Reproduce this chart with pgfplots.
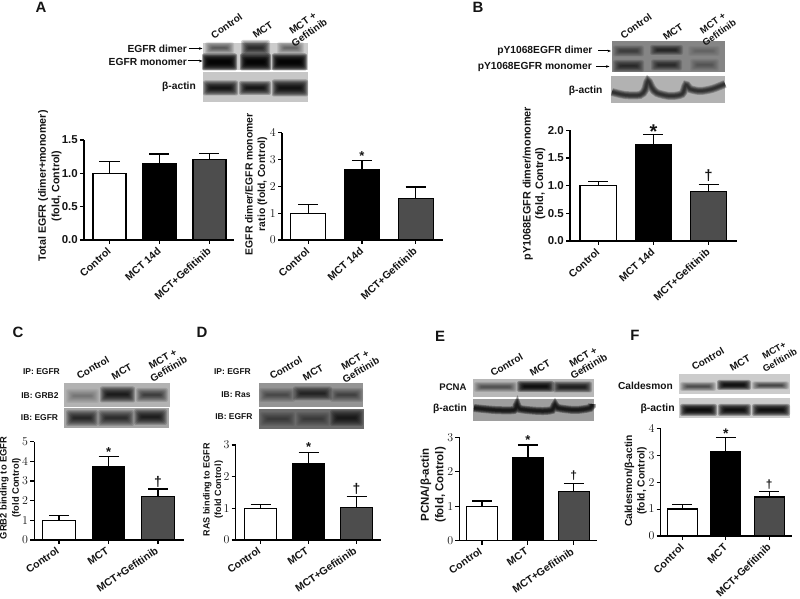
\documentclass[border=0pt]{standalone}
\usepackage{fontspec}
\setmainfont{Liberation Sans}
\usepackage{pgfplots}
\pgfplotsset{compat=1.18}
\usetikzlibrary{arrows.meta}

\definecolor{barwhite}{RGB}{255,255,255}
\definecolor{barblack}{RGB}{0,0,0}
\definecolor{bargray}{RGB}{77,77,77}
\definecolor{ink}{RGB}{20,20,20}

\newcommand{\sz}[1]{\fontsize{#1}{11.5}\selectfont\bfseries}

\pgfplotsset{
  panel/.style={
    scale only axis, ybar, bar shift=0pt, clip=false,
    axis x line*=bottom, axis y line*=left,
    axis line style={line width=1.2bp, black, -},
    tick style={line width=1.1bp, black},
    major tick length=4bp, tick align=outside,
    xtick={0,1,2}, ymin=0,
    tick label style={font=\sz{10.5}, text=ink},
    yticklabel style={font=\sz{11.5}, inner sep=2bp},
    xticklabel style={rotate=#1, anchor=east, inner sep=1bp, xshift=-3bp, yshift=-4bp},
    ylabel style={font=\sz{10.5}, text=ink, align=center, anchor=center},
  },
  lab/.style 2 args={every axis y label/.append style={at={(axis description cs:#1,#2)}}},
  eb/.style={
    line width=1.2bp, draw=black,
    error bars/y dir=plus, error bars/y explicit,
    error bars/error bar style={line width=1.3bp, black},
    error bars/error mark options={line width=1.3bp, black, mark size=10bp, rotate=90},
  },
}

% soft band on a blot
\newcommand{\band}[5]{%
  \foreach \i in {0,...,7}{%
    \fill[black, fill opacity={#5*0.65}, rounded corners=2bp]
      ({#1+\i*1},{#3-#4*(1-\i/8)}) rectangle ({#2-\i*1},{#3+#4*(1-\i/8)});
  }%
}
% soft curved strip
\newcommand{\strip}[2]{%
  \foreach \w in {8,6.5,5,3.5,2}{%
    \draw[black, draw opacity=#2, line width=\w bp] plot[smooth] coordinates {#1};
  }%
}
\newcommand{\blot}[5]{\fill[black!#5] (#1,#2) rectangle (#3,#4);}

\begin{document}
\begin{tikzpicture}
\path[use as bounding box] (0,0) rectangle (800bp,599bp);

% A, total EGFR
\begin{axis}[panel=42, at={(84bp,359bp)}, anchor=south west, width=150bp, height=100bp,
  bar width=33bp, xmin=-0.51, xmax=2.49, ymax=1.5,
  ytick={0,0.5,1,1.5}, yticklabels={0.0,0.5,1.0,1.5},
  xticklabels={Control,MCT 14d,MCT+Gefitinib},
  lab={-0.227}{0.54},
  ylabel style={font=\sz{10.7}},
  ylabel={Total EGFR (dimer+monomer)\\[2bp](fold, Control)}]
\addplot[eb, fill=barwhite] coordinates {(0,1.00) +- (0,0.18)};
\addplot[eb, fill=barblack] coordinates {(1,1.15) +- (0,0.14)};
\addplot[eb, fill=bargray] coordinates {(2,1.21) +- (0,0.09)};
\end{axis}

% A, dimer/monomer ratio
\begin{axis}[panel=42, at={(282bp,359bp)}, anchor=south west, width=161bp, height=107.3bp,
  bar width=35bp, xmin=-0.49, xmax=2.51, ymax=4,
  ytick={0,1,2,3,4},
  xticklabels={Control,MCT 14d,MCT+Gefitinib},
  lab={-0.16}{0.52},
  ylabel style={font=\sz{10.4}},
  ylabel={EGFR dimer/EGFR monomer\\[1bp]ratio (fold, Control)}]
\addplot[eb, fill=barwhite] coordinates {(0,1.00) +- (0,0.32)};
\addplot[eb, fill=barblack] coordinates {(1,2.62) +- (0,0.35)};
\addplot[eb, fill=bargray] coordinates {(2,1.55) +- (0,0.43)};
\node[font=\sz{13}, text=ink] at (axis cs:1,3.12) {*};
\end{axis}

% B
\begin{axis}[panel=42, at={(570bp,358bp)}, anchor=south west, width=166.7bp, height=110.7bp,
  bar width=36.5bp, xmin=-0.513, xmax=2.51, ymax=2,
  ytick={0,0.5,1,1.5,2}, yticklabels={0.0,0.5,1.0,1.5,2.0},
  xticklabels={Control,MCT 14d,MCT+Gefitinib},
  lab={-0.215}{0.52},
  ylabel style={font=\sz{10.9}},
  ylabel={pY1068EGFR dimer/monomer\\[1bp](fold, Control)}]
\addplot[eb, fill=barwhite] coordinates {(0,1.00) +- (0,0.08)};
\addplot[eb, fill=barblack] coordinates {(1,1.75) +- (0,0.17)};
\addplot[eb, fill=bargray] coordinates {(2,0.89) +- (0,0.13)};
\node[font=\sz{20}, text=ink] at (axis cs:1,1.98) {*};
\node[font=\sz{15}, text=ink] at (axis cs:2,1.19) {†};
\end{axis}

% C
\begin{axis}[panel=34, at={(34.3bp,59bp)}, anchor=south west, width=149.7bp, height=98.3bp,
  bar width=32.5bp, xmin=-0.5, xmax=2.525, ymax=5,
  ytick={0,1,2,3,4,5},
  xticklabels={Control,MCT,MCT+Gefitinib},
  lab={-0.16}{0.53},
  ylabel style={font=\sz{9.4}},
  ylabel={GRB2 binding to EGFR\\[1bp](fold Control)}]
\addplot[eb, fill=barwhite] coordinates {(0,1.00) +- (0,0.25)};
\addplot[eb, fill=barblack] coordinates {(1,3.75) +- (0,0.50)};
\addplot[eb, fill=bargray] coordinates {(2,2.20) +- (0,0.40)};
\node[font=\sz{13}, text=ink] at (axis cs:1,4.45) {*};
\node[font=\sz{14}, text=ink] at (axis cs:2,2.95) {†};
\end{axis}

% D
\begin{axis}[panel=34, at={(235.7bp,59bp)}, anchor=south west, width=145.3bp, height=95bp,
  bar width=32.5bp, xmin=-0.517, xmax=2.51, ymax=3,
  ytick={0,1,2,3},
  xticklabels={Control,MCT,MCT+Gefitinib},
  lab={-0.156}{0.53},
  ylabel style={font=\sz{9.1}},
  ylabel={RAS binding to EGFR\\(fold Control)}]
\addplot[eb, fill=barwhite] coordinates {(0,1.00) +- (0,0.13)};
\addplot[eb, fill=barblack] coordinates {(1,2.40) +- (0,0.37)};
\addplot[eb, fill=bargray] coordinates {(2,1.02) +- (0,0.36)};
\node[font=\sz{13}, text=ink] at (axis cs:1,2.92) {*};
\node[font=\sz{14}, text=ink] at (axis cs:2,1.6) {†};
\end{axis}

% E
\begin{axis}[panel=34, at={(459.3bp,58.3bp)}, anchor=south west, width=137.4bp, height=103.4bp,
  bar width=31bp, xmin=-0.495, xmax=2.50, ymax=3,
  ytick={0,1,2,3},
  xticklabels={Control,MCT,MCT+Gefitinib},
  lab={-0.19}{0.54},
  ylabel style={font=\sz{11.5}},
  ylabel={PCNA/β-actin\\[3bp](fold, Control)}]
\addplot[eb, fill=barwhite] coordinates {(0,1.00) +- (0,0.15)};
\addplot[eb, fill=barblack] coordinates {(1,2.42) +- (0,0.36)};
\addplot[eb, fill=bargray] coordinates {(2,1.43) +- (0,0.23)};
\node[font=\sz{13}, text=ink] at (axis cs:1,2.92) {*};
\node[font=\sz{12}, text=ink] at (axis cs:2,1.9) {†};
\end{axis}

% F
\begin{axis}[panel=44, at={(660.7bp,63bp)}, anchor=south west, width=131bp, height=107.7bp,
  bar width=30bp, xmin=-0.497, xmax=2.518, ymax=4,
  ytick={0,1,2,3,4},
  xticklabels={Control,MCT,MCT+Gefitinib},
  lab={-0.19}{0.51},
  ylabel style={font=\sz{10.3}},
  ylabel={Caldesmon/β-actin\\[1bp](fold, Control)}]
\addplot[eb, fill=barwhite] coordinates {(0,1.00) +- (0,0.18)};
\addplot[eb, fill=barblack] coordinates {(1,3.12) +- (0,0.53)};
\addplot[eb, fill=bargray] coordinates {(2,1.45) +- (0,0.21)};
\node[font=\sz{14}, text=ink] at (axis cs:1,3.8) {*};
\node[font=\sz{12}, text=ink] at (axis cs:2,1.9) {†};
\end{axis}

% blots and their labels, in pixel coordinates
\begin{scope}[x=1bp, y=-1bp, yshift=599bp, every node/.style={text=ink, inner sep=0pt}]
% letters
\foreach \x/\y/\t in {41/7/A,478/7/B,18/332/C,202/332/D,440/336/E,635/335/F}
  \node[font=\sz{15}] at (\x,\y) {\t};

% A
\blot{203}{43}{308}{70}{20}
\band{205}{234}{48}{6}{.14}\band{241}{270}{48}{8}{.26}\band{277}{304}{48}{6}{.12}
\band{202}{237}{62}{8.5}{.55}\band{240}{271}{62}{8.5}{.55}\band{272}{307}{62}{8.5}{.55}
\blot{203}{72}{308}{102}{22}
\band{203}{238}{88}{7.5}{.35}\band{239}{271}{88}{7}{.35}\band{272}{308}{88}{8.5}{.38}
\begin{scope}[font=\sz{10}]
\node[rotate=35] at (226.7,26) {Control};
\node[rotate=35] at (262.7,30) {MCT};
\node[rotate=35, align=center] at (306,28) {MCT +\\Gefitinib};
\node[anchor=east, font=\sz{10.3}] at (187,48.5) {EGFR dimer};
\node[anchor=east, font=\sz{10.3}] at (187,61.5) {EGFR monomer};
\node[anchor=east, font=\sz{10.3}] at (196,87) {β-actin};
\draw[-{Stealth[length=3.5bp]}, line width=1bp, black] (189,48.5) -- (202.5,48.5);
\draw[-{Stealth[length=3.5bp]}, line width=1bp, black] (188,61) -- (202.5,61);
\end{scope}

% B
\blot{611.7}{41}{725}{72}{48}
\band{613}{644}{51}{5.5}{.14}\band{650}{683}{50}{5}{.22}\band{688}{720}{51}{5}{.05}
\band{613}{644}{66}{6}{.2}\band{651}{682}{65}{5.5}{.2}\band{690}{719}{65}{6}{.08}
\blot{611}{76}{725}{103}{30}
\strip{(612,92)(625,95)(640,95)(645,90)(648,81)(652,88)(657,93)(670,96)(682,94)(686,85)(690,89)(700,91)(712,89)(725,84)}{.22}
\begin{scope}[font=\sz{10.3}]
\node[rotate=35, font=\sz{10}] at (636,26) {Control};
\node[rotate=35, font=\sz{10}] at (673,32) {MCT};
\node[rotate=35, align=center, font=\sz{9.5}] at (716,28) {MCT +\\Gefitinib};
\node[anchor=east] at (592.7,51) {pY1068EGFR dimer};
\node[anchor=east] at (592,66.7) {pY1068EGFR monomer};
\node[anchor=east] at (602.7,90.7) {β-actin};
\draw[-{Stealth[length=3.5bp]}, line width=1bp, black] (598,51) -- (611,51);
\draw[-{Stealth[length=3.5bp]}, line width=1bp, black] (596,66.5) -- (609.5,66.5);
\end{scope}

% C
\blot{64}{383}{170}{407}{30}
\band{66}{99}{396}{7}{.07}\band{100}{135}{394.5}{8}{.3}\band{136}{168}{395}{7}{.18}
\blot{64}{408}{169}{428}{35}
\band{66}{98}{418}{8}{.24}\band{98}{134}{418}{8}{.22}\band{134}{167}{417}{8}{.28}
\begin{scope}[font=\sz{9.5}]
\node[rotate=30, font=\sz{10}] at (93,367.7) {Control};
\node[rotate=30, font=\sz{10}] at (121.7,371.7) {MCT};
\node[rotate=30, align=center, font=\sz{10}] at (165.7,364) {MCT +\\Gefitinib};
\node[anchor=east, font=\sz{8.5}] at (60,371.7) {IP: EGFR};
\node[anchor=east, font=\sz{8.5}] at (58.7,396) {IB: GRB2};
\node[anchor=east, font=\sz{8.5}] at (58.3,417.7) {IB: EGFR};
\end{scope}

% D
\blot{259}{383}{363}{407}{42}
\band{259}{295}{395}{7}{.12}\band{293}{332}{393.5}{7}{.24}\band{330}{363}{395}{7}{.14}
\blot{259}{409}{363.5}{429}{58}
\band{260}{295}{419}{7}{.1}\band{296}{330}{419}{7}{.1}\band{330}{363}{418}{8}{.25}
\begin{scope}[font=\sz{9.5}]
\node[rotate=30, font=\sz{10}] at (286,368) {Control};
\node[rotate=30, font=\sz{10}] at (313,372.7) {MCT};
\node[rotate=30, align=center, font=\sz{10}] at (358,365) {MCT +\\Gefitinib};
\node[anchor=east, font=\sz{8.5}] at (251,371.7) {IP: EGFR};
\node[anchor=east, font=\sz{8.5}] at (250.7,395) {IB: Ras};
\node[anchor=east, font=\sz{8.5}] at (252.7,417) {IB: EGFR};
\end{scope}

% E
\blot{473}{379}{594}{397}{28}
\band{474}{517}{387}{5}{.14}\band{517}{554}{386.5}{5.5}{.4}\band{553}{592}{387}{5.5}{.3}
\blot{473}{399}{594}{421}{38}
\strip{(474,408)(495,410)(514,410)(517,405)(520,409)(540,411)(552,410)(555,405)(558,408)(575,410)(590,408)(592,404)}{.3}
\begin{scope}[font=\sz{10.3}]
\node[rotate=30, font=\sz{10}] at (506.7,365) {Control};
\node[rotate=30, font=\sz{10}] at (540,368) {MCT};
\node[rotate=30, align=center, font=\sz{10}] at (586,361.7) {MCT +\\Gefitinib};
\node[anchor=east, font=\sz{9.6}] at (466.7,387.7) {PCNA};
\node[anchor=east] at (467,408.7) {β-actin};
\end{scope}

% F
\blot{679}{374}{790}{394}{20}
\band{680}{716}{386.5}{4.5}{.17}\band{717}{751}{385}{5}{.4}\band{752}{789}{385.5}{4}{.18}
\blot{679}{398}{790}{418}{20}
\band{680}{717}{410}{6}{.42}\band{718}{751}{410}{6}{.4}\band{752}{790}{410}{6}{.4}
\begin{scope}[font=\sz{10}]
\node[rotate=30] at (708,359) {Control};
\node[rotate=30] at (740,363) {MCT};
\node[rotate=30, align=center, font=\sz{9.3}] at (777,355.5) {MCT+\\Gefitinib};
\node[anchor=east, font=\sz{10.2}] at (673,386) {Caldesmon};
\node[anchor=east, font=\sz{10.5}] at (675,408.7) {β-actin};
\end{scope}
\end{scope}

\end{tikzpicture}
\end{document}
